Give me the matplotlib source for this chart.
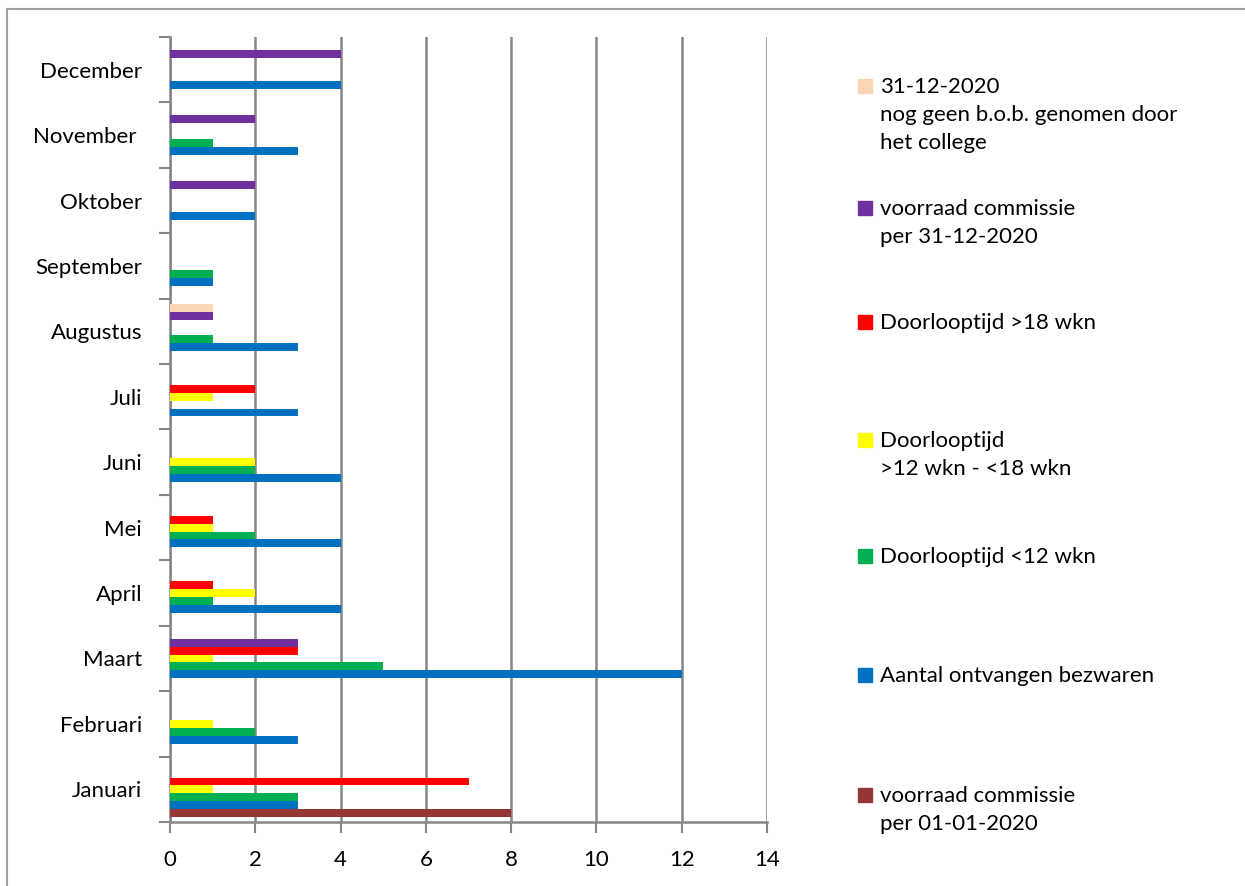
import matplotlib
matplotlib.use("Agg")
import matplotlib.pyplot as plt
from matplotlib.patches import Rectangle
import numpy as np

plt.rcParams['font.family'] = ['Lato', 'DejaVu Sans']

months = ["Januari", "Februari", "Maart", "April", "Mei", "Juni", "Juli",
          "Augustus", "September", "Oktober", "November ", "December"]

series_names = [
    "voorraad commissie\nper 01-01-2020",
    "Aantal ontvangen bezwaren",
    "Doorlooptijd <12 wkn",
    "Doorlooptijd\n>12 wkn - <18 wkn",
    "Doorlooptijd >18 wkn",
    "voorraad commissie\nper 31-12-2020",
    "31-12-2020\nnog geen b.o.b. genomen door\nhet college",
]
colors = ["#953735", "#0070C0", "#00B050", "#FFFF00", "#FF0000", "#7030A0", "#FCD5B5"]

voorraad_begin = [8, 0, 0, 0, 0, 0, 0, 0, 0, 0, 0, 0]
ontvangen      = [3, 3, 12, 4, 4, 4, 3, 3, 1, 2, 3, 4]
lt12           = [3, 2, 5, 1, 2, 2, 0, 1, 1, 0, 1, 0]
t12_18         = [1, 1, 1, 2, 1, 2, 1, 0, 0, 0, 0, 0]
gt18           = [7, 0, 3, 1, 1, 0, 2, 0, 0, 0, 0, 0]
voorraad_eind  = [0, 0, 3, 0, 0, 0, 0, 1, 0, 2, 2, 4]
geen_bob       = [0, 0, 0, 0, 0, 0, 0, 1, 0, 0, 0, 0]
values = [voorraad_begin, ontvangen, lt12, t12_18, gt18, voorraad_eind, geen_bob]

fig = plt.figure(figsize=(12.45, 8.86), dpi=100)
ax = fig.add_axes([170/1245, 1-822/886, (767-170)/1245, (822-37)/886])

y = np.arange(len(months))
h = 0.12
n = len(values)
for i, (vals, c) in enumerate(zip(values, colors)):
    off = (i - (n-1)/2) * h
    ax.barh(y + off, vals, height=h, color=c, edgecolor='none', zorder=3)

gray = "#868686"
fs = 16
ax.set_xlim(0, 14)
ax.set_ylim(-0.5, len(months)-0.5)
ax.set_xticks(np.arange(0, 15, 2))
ax.set_xticklabels([str(v) for v in range(0, 15, 2)], fontsize=fs)
ax.set_yticks(y)
ax.set_yticklabels(months, fontsize=fs)
ax.set_yticks(np.arange(-0.5, len(months), 1), minor=True)
ax.tick_params(axis='y', which='major', length=0, pad=20)
ax.tick_params(axis='y', which='minor', length=8, color=gray, width=1.5, direction='out')
ax.tick_params(axis='x', which='major', length=8, color=gray, width=1.5, direction='out', pad=12)
ax.xaxis.grid(True, color=gray, linewidth=1.8, zorder=0)
ax.set_axisbelow(True)
for s in ['top', 'right']:
    ax.spines[s].set_visible(False)
for s in ['left', 'bottom']:
    ax.spines[s].set_color(gray)
    ax.spines[s].set_linewidth(1.8)

# legend (manual, Excel style: square aligned with first line)
leg_y = [795, 675, 556, 440, 322, 208, 86]
for name, c, yy in zip(series_names, colors, leg_y):
    fig.patches.append(Rectangle((858/1245, 1-(yy+7)/886), 14/1245, 14/886,
                                 transform=fig.transFigure, color=c))
    fig.text(880/1245, 1-(yy-9)/886, name, fontsize=fs, va='top', ha='left',
             linespacing=1.5)

# outer border
fig.patches.append(Rectangle((7/1245, -0.01), 1.1, 1-9/886+0.01, transform=fig.transFigure,
                             fill=False, edgecolor="#A0A0A0", linewidth=1.5))

fig.savefig("out.png", dpi=100)
